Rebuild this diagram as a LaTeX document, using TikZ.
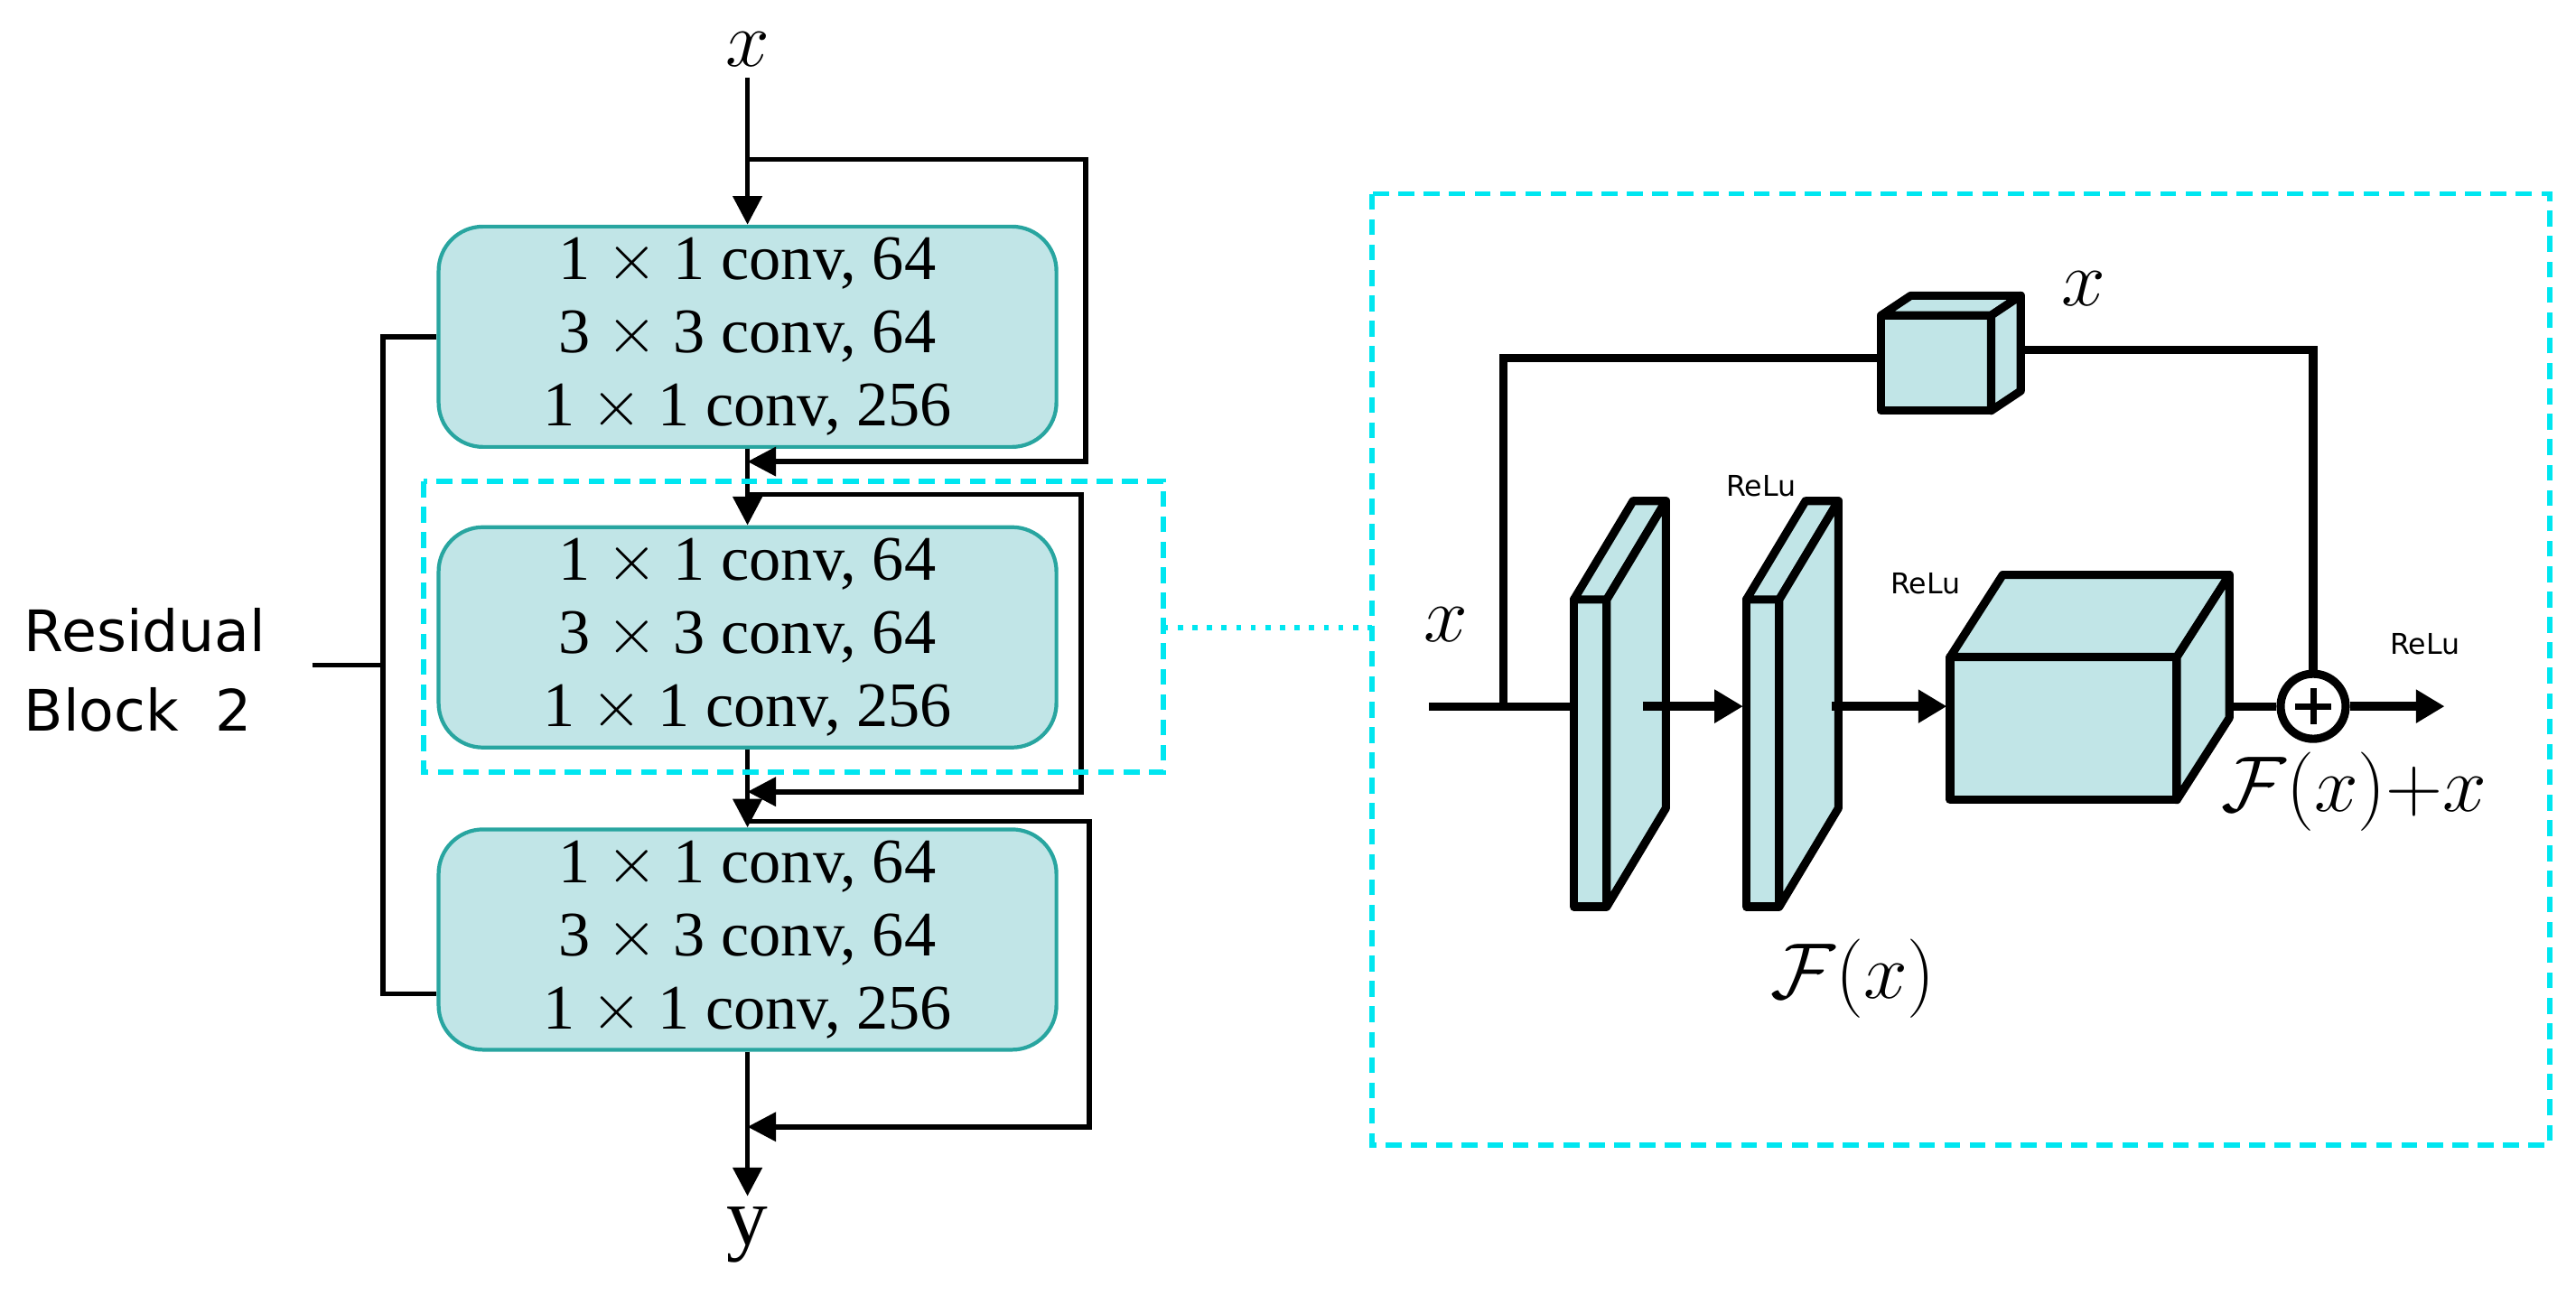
\documentclass[tikz,border=0pt]{standalone}
\usepackage{fontspec}
\setmainfont{Liberation Serif}
\newfontfamily\lblfont{DejaVu Sans}
\usetikzlibrary{arrows.meta,positioning,calc}
\definecolor{cellfill}{RGB}{193,229,231}
\definecolor{celldraw}{RGB}{40,165,160}
\definecolor{zoomcyan}{RGB}{0,230,240}
\tikzset{
  conv/.style={draw=celldraw,fill=cellfill,line width=1.2pt,rounded corners=14pt,
    minimum width=6.84cm,minimum height=2.44cm,align=center,
    font=\fontsize{20}{23}\selectfont},
  flow/.style={line width=1.6pt,-{Triangle[length=9pt,width=9pt]}},
  wire/.style={line width=1.6pt},
  fat/.style={line width=2.8pt,-{Triangle[length=9pt,width=10pt]}},
  solid3d/.style={draw,fill=cellfill,line width=2.6pt,line join=round},
  cut/.style={zoomcyan,line width=1.6pt,dash pattern=on 5pt off 3pt},
}
% box of front (#1,#2)--(#3,#4) with depth offset (#5,#6)
\newcommand{\slab}[6]{%
  \draw[solid3d] (#1,#2) rectangle (#3,#4);
  \draw[solid3d] (#1,#2) -- ++(#5,#6) -- ($(#3,#2)+(#5,#6)$) -- (#3,#2) -- cycle;
  \draw[solid3d] (#3,#2) -- ($(#3,#2)+(#5,#6)$) -- ($(#3,#4)+(#5,#6)$) -- (#3,#4) -- cycle;}
\newcommand{\convtext}{1 $\times$ 1 conv, 64\\3 $\times$ 3 conv, 64\\1 $\times$ 1 conv, 256}
\begin{document}
\begin{tikzpicture}[x=0.01819cm,y=-0.01819cm]
  \useasboundingbox (0,0) rectangle (1568,788);

  % left: stack of bottleneck blocks
  \node[font=\fontsize{26}{26}\selectfont] (xin) at (455,30) {$x$};
  \node[conv] (b1) at (455,205) {\convtext};
  \node[conv] (b2) at (455,388) {\convtext};
  \node[conv] (b3) at (455,572) {\convtext};
  \node[font=\fontsize{26}{26}\selectfont] (yout) at (455,752) {y};

  \coordinate (s1) at (455,97);  \coordinate (j1) at (455,281);
  \coordinate (s2) at (455,301); \coordinate (j2) at (455,482);
  \coordinate (s3) at (455,500); \coordinate (j3) at (455,686);

  \draw[flow] (xin.south) -- (b1.north);
  \draw[flow] (b1.south) -- (b2.north);
  \draw[flow] (b2.south) -- (b3.north);
  \draw[flow] (b3.south) -- (yout.north);
  \draw[flow] (s1) -| (661,281) -- (j1);
  \draw[flow] (s2) -| (658,482) -- (j2);
  \draw[flow] (s3) -| (663,686) -- (j3);

  % bracket
  \draw[wire] (b1.west) -- (233,205) -- (233,605) -- (b3.west |- 0,605);
  \draw[wire] (190,405) -- (233,405);
  \node[font=\lblfont\fontsize{18}{25}\selectfont,align=left,anchor=west] (lbl) at (8,408)
    {Residual\\Block\ \ 2};

  % zoom marks
  \draw[cut] (258,293) rectangle (708,470);
  \draw[cut] (835,118) rectangle (1552,697);
  \draw[zoomcyan,line width=1.6pt,dash pattern=on 1.6pt off 3pt] (708,382) -- (835,382);

  % right: inside one residual block
  \node[draw,circle,line width=2.6pt,fill=white,minimum size=0.72cm,inner sep=0pt] (add) at (1408,430) {};
  \draw[wire,line width=2.6pt] (870,430) -- (960,430);
  \draw[wire,line width=2.6pt] (915,430) -- (915,218) -- (1145,218);
  \draw[wire,line width=2.6pt] (1225,213) -- (add.north |- 0,213) -- (add.north);
  \slab{1145}{192}{1212}{250}{18}{-12}
  \slab{958}{365}{978}{552}{36}{-60}
  \slab{1063}{365}{1083}{552}{36}{-60}
  \slab{1187}{400}{1325}{487}{32}{-50}
  \draw[fat] (1000,430) -- (1061,430);
  \draw[fat] (1115,430) -- (1185,430);
  \draw[line width=2pt] ($(add.center)+(0,-11)$) -- ($(add.center)+(0,11)$)
    ($(add.center)+(-11,0)$) -- ($(add.center)+(11,0)$);
  \draw[wire,line width=2.6pt] (1355,430) -- (add.west);
  \draw[fat] (add.east) -- (1488,430);

  \node[font=\fontsize{24}{24}\selectfont] (xl) at (880,380) {$x$};
  \node[font=\fontsize{24}{24}\selectfont] (xs) at (1268,176) {$x$};
  \node[font=\lblfont\fontsize{9}{9}\selectfont] (r1) at (1072,296) {ReLu};
  \node[font=\lblfont\fontsize{9}{9}\selectfont] (r2) at (1172,355) {ReLu};
  \node[font=\lblfont\fontsize{9}{9}\selectfont] (r3) at (1476,392) {ReLu};
  \node[font=\fontsize{24}{24}\selectfont] (fx) at (1128,596) {$\mathcal{F}(x)$};
  \node[font=\fontsize{24}{24}\selectfont] (fxx) at (1433,482) {$\mathcal{F}(x){+}x$};
\end{tikzpicture}
\end{document}
